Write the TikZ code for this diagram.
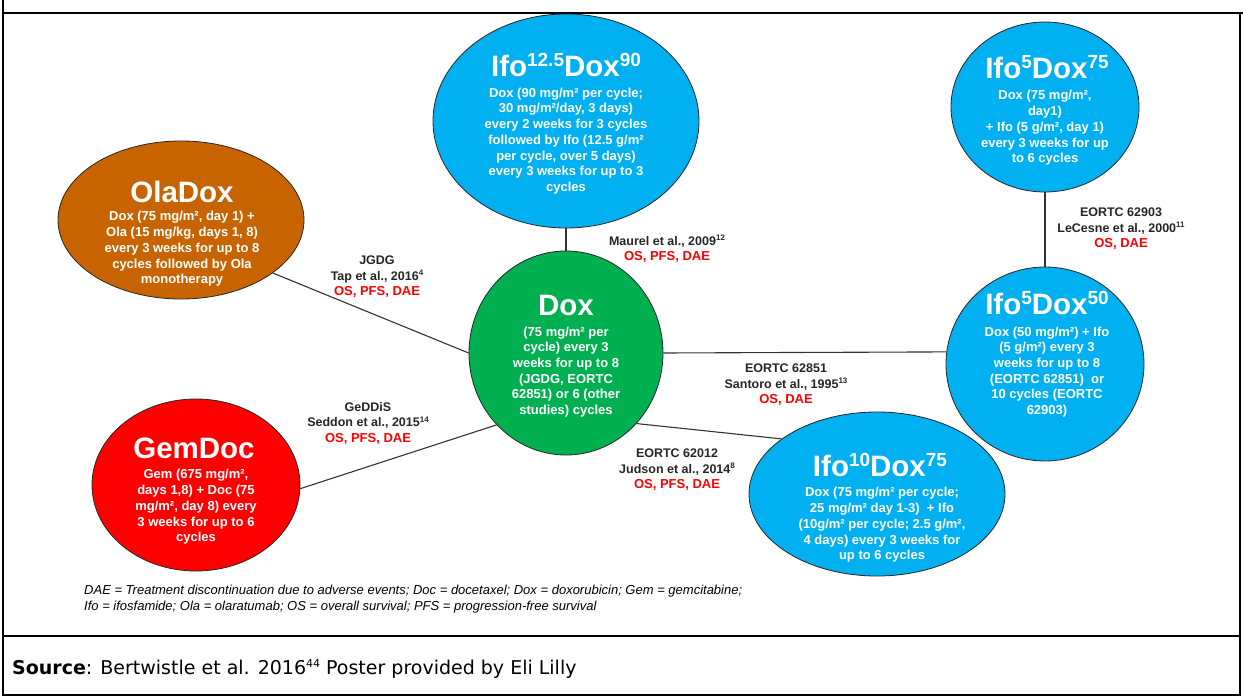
\documentclass[tikz,border=0pt]{standalone}
\usepackage{fontspec}
\setmainfont{Liberation Sans}
\newfontfamily\srcfont{DejaVu Sans}
\usetikzlibrary{shapes.geometric}
\definecolor{ifoblue}{RGB}{0,176,240}
\definecolor{doxgreen}{RGB}{0,176,80}
\definecolor{olabrown}{RGB}{200,100,0}
\definecolor{gemred}{RGB}{255,0,0}
\definecolor{labred}{RGB}{255,0,0}
\newcommand\supx[1]{\raisebox{4.5pt}{\fontsize{8}{8}\selectfont #1}}
\newcommand\hsup[1]{\raisebox{10pt}{\fontsize{19}{19}\selectfont #1}}
\begin{document}
\begin{tikzpicture}[x=1pt,y=-1pt,
 ell/.style={ellipse,draw=black!85,line width=0.8pt,inner sep=0pt},
 head/.style={text=white,font=\bfseries\fontsize{29.5}{30}\selectfont,inner sep=0pt},
 body/.style={text=white,font=\bfseries\fontsize{13}{15.7}\selectfont,align=center,inner sep=0pt},
 lab/.style={font=\bfseries\fontsize{12.5}{15.5}\selectfont,align=center,inner sep=0pt,text=black!85},
 conn/.style={draw=black!80,line width=1.1pt},
 framel/.style={draw=black,line width=1.2pt}]
\useasboundingbox (0,0) rectangle (1243,696);
% frame
\draw[framel] (3,0) -- (3,695) -- (1240,695) -- (1240,13);
\draw[framel] (3,13) -- (1243,13);
\draw[black,line width=2.6pt] (3,13) -- (20,13);
\draw[black,line width=2.6pt] (1213,13) -- (1243,13);
\draw[framel] (3,636) -- (1240,636);
% ellipses
\node[ell,fill=olabrown,minimum width=246pt,minimum height=158pt] (ola) at (181,220) {};
\node[ell,fill=ifoblue,minimum width=266pt,minimum height=214pt] (i125) at (566,121) {};
\node[ell,fill=ifoblue,minimum width=188pt,minimum height=170pt] (i75) at (1045,107) {};
\node[ell,fill=doxgreen,minimum width=194pt,minimum height=204pt] (dox) at (566,353) {};
\node[ell,fill=ifoblue,minimum width=198pt,minimum height=194pt] (i50) at (1045,364) {};
\node[ell,fill=ifoblue,minimum width=256pt,minimum height=164pt] (i10) at (877,494) {};
\node[ell,fill=gemred,minimum width=208pt,minimum height=172pt] (gem) at (196,485) {};
% connectors
\draw[conn] (i125.south) -- (dox.north);
\draw[conn] (ola.-30) -- (dox.180);
\draw[conn] (gem.-2) -- (dox.226);
\draw[conn] (dox.0) -- (i50.173);
\draw[conn] (dox.-45) -- (i10.150);
\draw[conn] (i75.south) -- (i50.north);
% ellipse texts
\node[head] (olaH) at (182,192) {OlaDox};
\node[body] (olaB) at (182,249) {Dox (75 mg/m², day 1) +\\Ola (15 mg/kg, days 1, 8)\\every 3 weeks for up to 8\\cycles followed by Ola\\monotherapy};
\node[head] (i125H) at (566,65) {Ifo\hsup{12.5}Dox\hsup{90}};
\node[body] (i125B) at (566,141) {Dox (90 mg/m² per cycle;\\30 mg/m²/day, 3 days)\\every 2 weeks for 3 cycles\\followed by Ifo (12.5 g/m²\\per cycle, over 5 days)\\every 3 weeks for up to 3\\cycles};
\node[head] (i75H) at (1047,67) {Ifo\hsup{5}Dox\hsup{75}};
\node[body] (i75B) at (1045,128) {Dox (75 mg/m²,\\day1)\\+ Ifo (5 g/m², day 1)\\every 3 weeks for up\\to 6 cycles};
\node[head] (doxH) at (566,305) {Dox};
\node[body] (doxB) at (566,372) {(75 mg/m² per\\cycle) every 3\\weeks for up to 8\\(JGDG, EORTC\\62851) or 6 (other\\studies) cycles};
\node[head] (i50H) at (1047,303) {Ifo\hsup{5}Dox\hsup{50}};
\node[body] (i50B) at (1047,372) {Dox (50 mg/m²) + Ifo\\(5 g/m²) every 3\\weeks for up to 8\\(EORTC 62851)\ \ or\\10 cycles (EORTC\\62903)};
\node[head] (i10H) at (880,465) {Ifo\hsup{10}Dox\hsup{75}};
\node[body] (i10B) at (882,525) {Dox (75 mg/m² per cycle;\\25 mg/m² day 1-3)\ \ + Ifo\\(10g/m² per cycle; 2.5 g/m²,\\4 days) every 3 weeks for\\up to 6 cycles};
\node[head] (gemH) at (194,448) {GemDoc};
\node[body] (gemB) at (196,507) {Gem (675 mg/m²,\\days 1,8) + Doc (75\\mg/m², day 8) every\\3 weeks for up to 6\\cycles};
% connector labels
\node[lab] (l1) at (377,277) {JGDG\\Tap et al., 2016\supx{4}\\{\color{labred}\fontsize{13}{15.5}\selectfont OS, PFS, DAE}};
\node[lab] (l2) at (667,249) {Maurel et al., 2009\supx{12}\\{\color{labred}\fontsize{13}{15.5}\selectfont OS, PFS, DAE}};
\node[lab] (l3) at (1121,229) {EORTC 62903\\LeCesne et al., 2000\supx{11}\\{\color{labred}\fontsize{13}{15.5}\selectfont OS, DAE}};
\node[lab] (l4) at (368,423) {GeDDiS\\Seddon et al., 2015\supx{14}\\{\color{labred}\fontsize{13}{15.5}\selectfont OS, PFS, DAE}};
\node[lab] (l5) at (786,385) {EORTC 62851\\Santoro et al., 1995\supx{13}\\{\color{labred}\fontsize{13}{15.5}\selectfont OS, DAE}};
\node[lab] (l6) at (677,470) {EORTC 62012\\Judson et al., 2014\supx{8}\\{\color{labred}\fontsize{13}{15.5}\selectfont OS, PFS, DAE}};
% footnote
\node[anchor=west,font=\itshape\fontsize{13}{16}\selectfont,align=left,inner sep=0pt] (fn) at (84,599) {DAE = Treatment discontinuation due to adverse events; Doc = docetaxel; Dox = doxorubicin; Gem = gemcitabine;\\Ifo = ifosfamide; Ola = olaratumab; OS = overall survival; PFS = progression-free survival};
% source
\node[anchor=west,font=\srcfont\fontsize{19}{22}\selectfont,inner sep=0pt] (src) at (12,669) {\textbf{Source}: Bertwistle et al. 2016\raisebox{7pt}{\fontsize{11}{11}\selectfont 44} Poster provided by Eli Lilly};
\end{tikzpicture}
\end{document}
